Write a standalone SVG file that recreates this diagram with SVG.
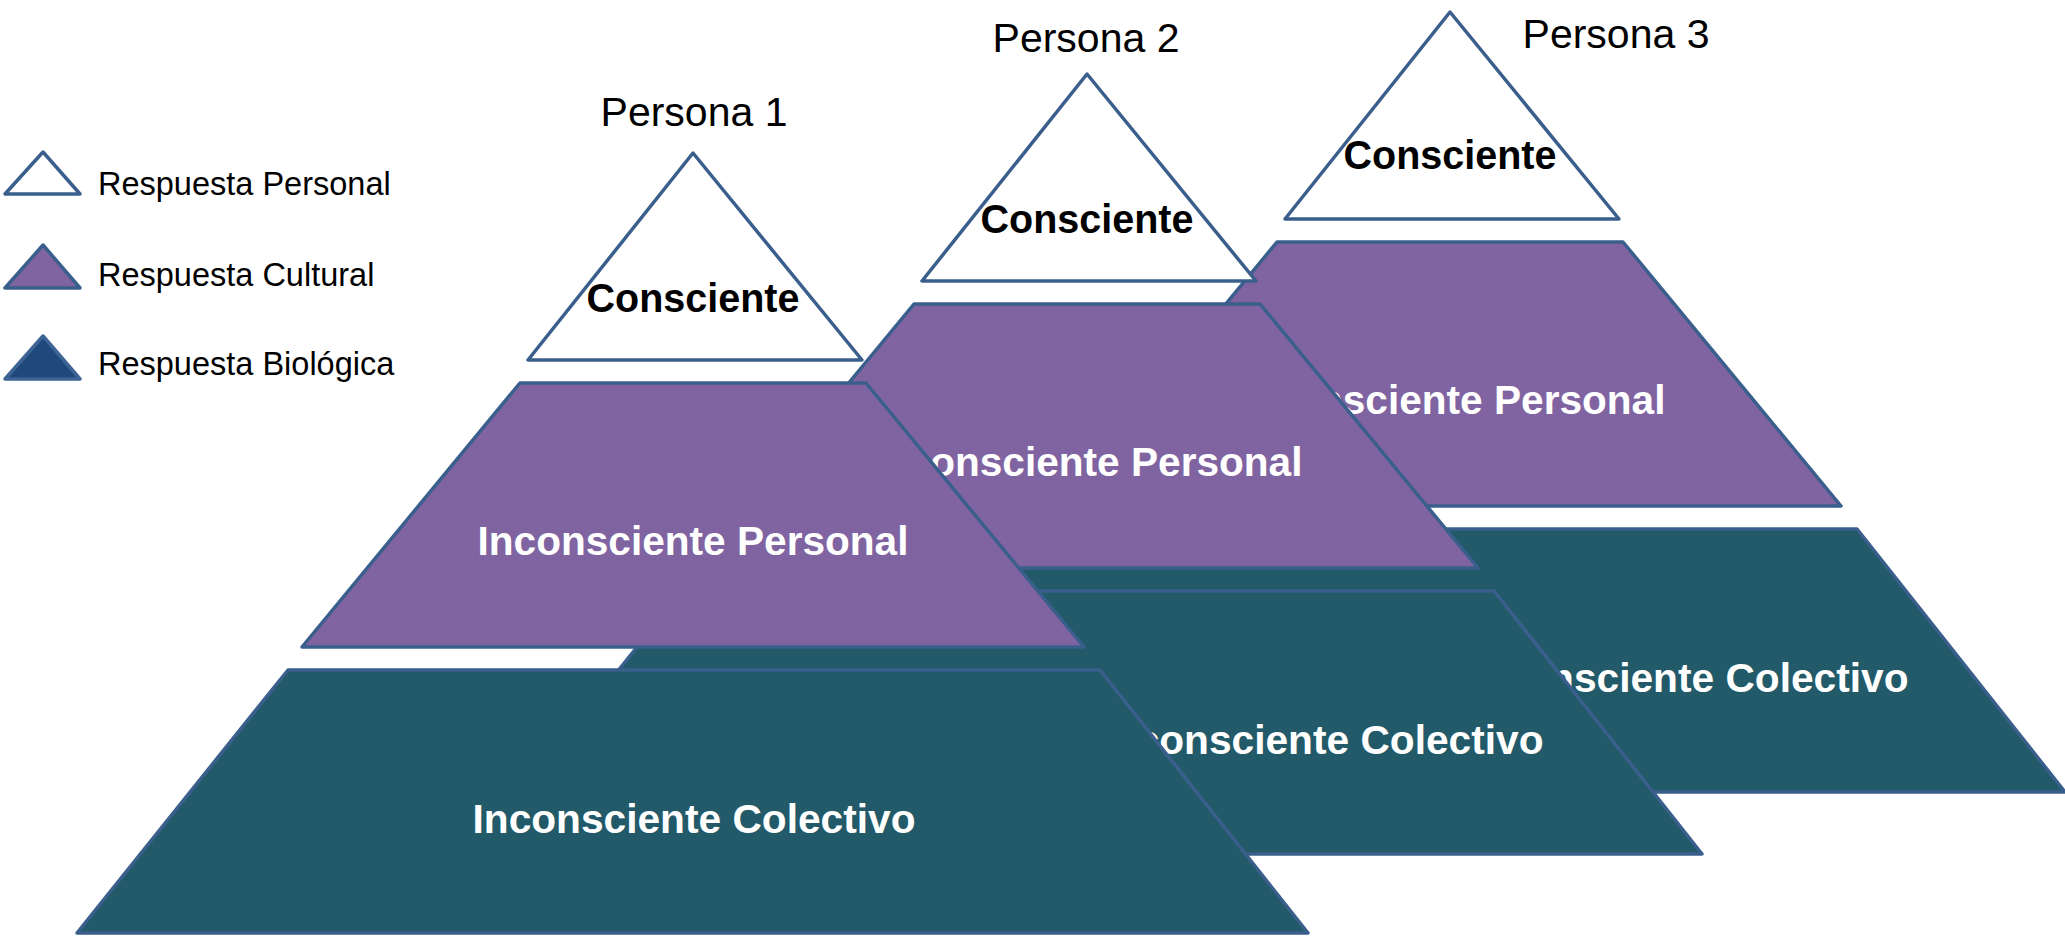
<svg xmlns="http://www.w3.org/2000/svg" width="2065" height="936" viewBox="0 0 2065 936">
<style>
.sh{stroke:#3A5F8C;stroke-width:3.5;stroke-linejoin:round}
.w{fill:#FFFFFF}
.pu{fill:#8064A2}
.te{fill:#225A69}
.lb{font-family:"Liberation Sans",Arial,sans-serif;font-weight:bold;font-size:41px;text-anchor:middle}
.lw{fill:#FFFFFF}
.lk{fill:#000000}
.pn{font-family:"Liberation Sans",Arial,sans-serif;font-size:41px;fill:#000000;text-anchor:middle}
.lg{font-family:"Liberation Sans",Arial,sans-serif;font-size:32.5px;fill:#000000}
</style>
<rect width="2065" height="936" fill="#FFFFFF"/>
<defs>
<polygon id="tri" points="693,153 528,360 862,360"/>
<polygon id="mid" points="520,383 866,383 1084,647 302,647"/>
<polygon id="bot" points="288,670 1100,670 1308,933 77,933"/>
</defs>

<!-- Pyramid 3 -->
<g id="persona3" transform="translate(757,-141)">
  <g id="p3-colectivo"><use href="#bot" class="sh te"/><text class="lb lw" x="930" y="833" textLength="443" lengthAdjust="spacingAndGlyphs">Inconsciente Colectivo</text></g>
  <g id="p3-personal"><use href="#mid" class="sh pu"/><text class="lb lw" x="693" y="555" textLength="431" lengthAdjust="spacingAndGlyphs">Inconsciente Personal</text></g>
  <g id="p3-consciente"><use href="#tri" class="sh w"/><text class="lb lk" x="693" y="310" textLength="213" lengthAdjust="spacingAndGlyphs">Consciente</text></g>
</g>

<!-- Pyramid 2 -->
<g id="persona2" transform="translate(394,-79)">
  <g id="p2-colectivo"><use href="#bot" class="sh te"/><text class="lb lw" x="928" y="833" textLength="443" lengthAdjust="spacingAndGlyphs">Inconsciente Colectivo</text></g>
  <g id="p2-personal"><use href="#mid" class="sh pu"/><text class="lb lw" x="693" y="555" textLength="431" lengthAdjust="spacingAndGlyphs">Inconsciente Personal</text></g>
  <g id="p2-consciente"><use href="#tri" class="sh w"/><text class="lb lk" x="693" y="312" textLength="213" lengthAdjust="spacingAndGlyphs">Consciente</text></g>
</g>

<!-- Pyramid 1 -->
<g id="persona1">
  <g id="p1-colectivo"><use href="#bot" class="sh te"/><text class="lb lw" x="694" y="833" textLength="443" lengthAdjust="spacingAndGlyphs">Inconsciente Colectivo</text></g>
  <g id="p1-personal"><use href="#mid" class="sh pu"/><text class="lb lw" x="693" y="555" textLength="431" lengthAdjust="spacingAndGlyphs">Inconsciente Personal</text></g>
  <g id="p1-consciente"><use href="#tri" class="sh w"/><text class="lb lk" x="693" y="312" textLength="213" lengthAdjust="spacingAndGlyphs">Consciente</text></g>
</g>

<g id="titles">
  <text id="t1" class="pn" x="694" y="126">Persona 1</text>
  <text id="t2" class="pn" x="1086" y="52">Persona 2</text>
  <text id="t3" class="pn" x="1616" y="48">Persona 3</text>
</g>

<g id="legend">
  <g id="leg-personal">
    <polygon points="43,152 5,194 80,194" fill="#FFFFFF" stroke="#3A5F8C" stroke-width="3.5" stroke-linejoin="round"/>
    <text class="lg" x="98" y="195">Respuesta Personal</text>
  </g>
  <g id="leg-cultural">
    <polygon points="43,245 5,288 80,288" fill="#8064A2" stroke="#3A5F8C" stroke-width="3.5" stroke-linejoin="round"/>
    <text class="lg" x="98" y="286">Respuesta Cultural</text>
  </g>
  <g id="leg-biologica">
    <polygon points="43,336 5,379 80,379" fill="#1F497D" stroke="#3D6494" stroke-width="3.5" stroke-linejoin="round"/>
    <text class="lg" x="98" y="375">Respuesta Biológica</text>
  </g>
</g>

<g id="connectors"/>
</svg>
